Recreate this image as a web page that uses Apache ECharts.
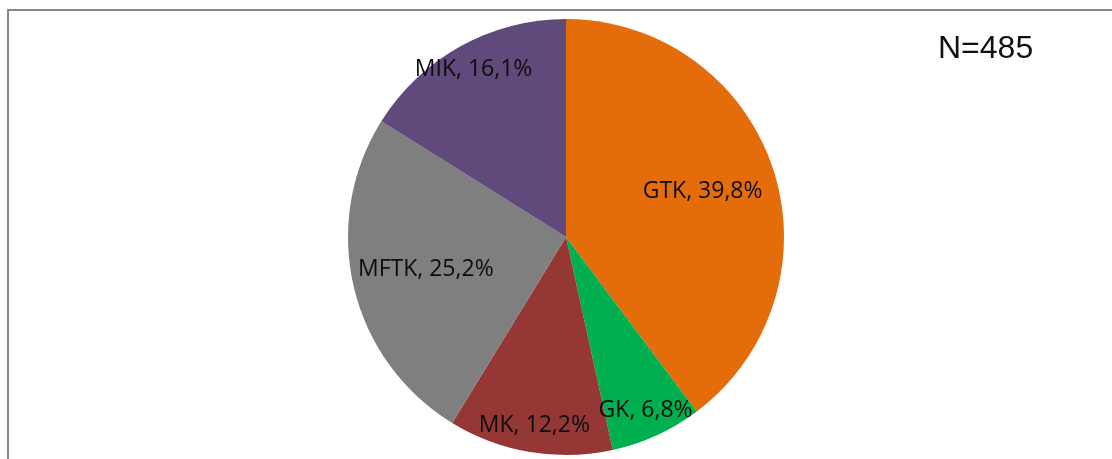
<!DOCTYPE html>
<html>
<head>
<meta charset="utf-8">
<script src="https://cdn.jsdelivr.net/npm/echarts@6/dist/echarts.min.js"></script>
<style>
  html, body { margin: 0; padding: 0; background: #fff; }
  #chart-panel { width: 1112px; height: 459px; }
</style>
</head>
<body>
<div id="chart-panel"></div>
<script>
// 数据
var categories = ['GTK', 'GK', 'MK', 'MFTK', 'MIK'];
var shares = [39.8, 6.8, 12.2, 25.2, 16.1];
var colors = ['#E46C0A', '#00B050', '#953735', '#7F7F7F', '#604A7B'];
var totalLabel = 'N=485';

// 大块的标签靠里，小块的靠外（和原图一样）
var innerLabels = ['GTK', 'MFTK'];

let chartPanel = document.getElementById('chart-panel');
let myChart = echarts.init(chartPanel);

let pieData = categories.map((name, i) => ({
  name: name,
  value: shares[i],
  itemStyle: { color: colors[i] }
}));

function labelText(p) {
  return p.name + ', ' + p.value.toFixed(1).replace('.', ',') + '%';
}

// 透明的叠加层只用来放标签
function labelLayer(radius, inner) {
  return {
    type: 'pie',
    center: [566, 237],
    radius: radius,
    startAngle: 90,
    silent: true,
    animation: false,
    itemStyle: { color: 'rgba(0,0,0,0)', borderWidth: 0 },
    labelLine: { show: false },
    data: categories.map((name, i) => ({
      name: name,
      value: shares[i],
      label: { show: innerLabels.includes(name) === inner }
    })),
    label: {
      position: 'inside',
      formatter: labelText,
      color: '#0d0d0d',
      fontFamily: 'Open Sans',
      fontSize: 23
    }
  };
}

myChart.setOption({
  backgroundColor: '#fff',
  animation: false,
  graphic: [
    {
      type: 'polyline',
      shape: { points: [[8, 459], [8, 10], [1112, 10]] },
      style: { stroke: '#888', lineWidth: 2, fill: null }
    },
    {
      type: 'text',
      left: 938,
      top: 33,
      style: {
        text: totalLabel,
        fill: '#111',
        font: '32px "Liberation Sans", Arial, sans-serif'
      }
    }
  ],
  series: [
    {
      type: 'pie',
      center: [566, 237],
      radius: 218,
      startAngle: 90,
      clockwise: true,
      animation: false,
      data: pieData,
      label: { show: false },
      labelLine: { show: false },
      itemStyle: { borderWidth: 0 }
    },
    labelLayer([64, 218], true),
    labelLayer([158, 218], false)
  ]
});
</script>
</body>
</html>
